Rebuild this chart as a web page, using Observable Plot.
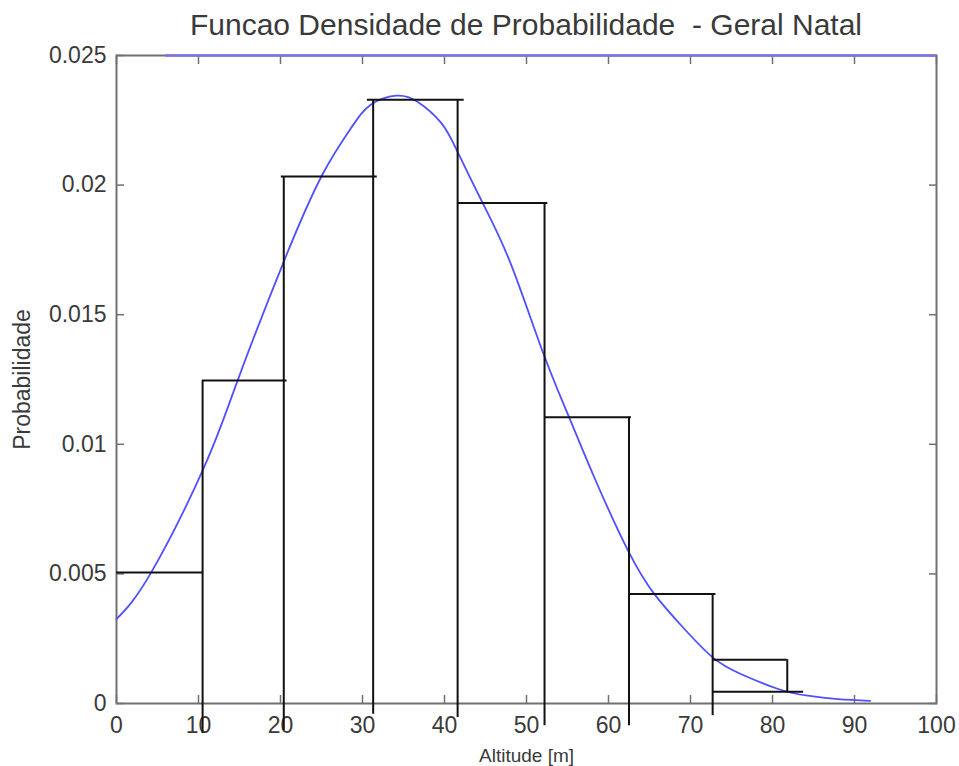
<!DOCTYPE html>
<html><head><meta charset="utf-8">
<script src="https://cdn.jsdelivr.net/npm/d3@7"></script>
<script src="https://cdn.jsdelivr.net/npm/@observablehq/plot@0.6"></script>
<style>
body{margin:0;background:#fff;font-family:"Liberation Sans",Arial,sans-serif;}
#title{height:45px;line-height:45px;padding-left:93px;width:866px;text-align:center;font-size:30px;color:#3a3a3a;padding-top:2px;box-sizing:content-box;}
#chart svg{overflow:visible;display:block;}
</style></head><body>
<div id="title">Funcao Densidade de Probabilidade&nbsp; - Geral Natal</div>
<div id="chart"></div>
<script>
// tick values / labels
const xTicks = [0, 10, 20, 30, 40, 50, 60, 70, 80, 90, 100];
const yTicks = [0, 0.005, 0.01, 0.015, 0.02, 0.025];
const yTickLabels = ["0", "0.005", "0.01", "0.015", "0.02", "0.025"];

// fitted density curve
const curveX = [0, 4.2, 10.7, 14.7, 20.4, 25.1, 28.6, 31.0, 34.1, 36.7, 39.6, 41.6, 44.7, 48.1, 52.0, 55.2, 58.3, 62.4, 65.6, 68.9, 72.7, 76.2, 80.7, 84.3, 88.0, 91.9];
const curveY = [0.00326, 0.00504, 0.00913, 0.01240, 0.01705, 0.0204, 0.0222, 0.02310, 0.02345, 0.02322, 0.0224, 0.02128, 0.01928, 0.01695, 0.01355, 0.01104, 0.0087, 0.00589, 0.00422, 0.0030, 0.00178, 0.00113, 0.00056, 0.0003, 0.00017, 0.0001];

// histogram outline: horizontal tops
const hX1 = [0, 10.5, 20.1, 30.6, 41.6, 52.2, 62.5, 72.7, 72.7];
const hX2 = [10.5, 20.8, 31.8, 42.4, 52.6, 62.8, 73.1, 81.8, 83.8];
const hY  = [0.00505, 0.01246, 0.02033, 0.02329, 0.01931, 0.01104, 0.00422, 0.00169, 0.00045];

// histogram outline: verticals
const vX      = [10.5, 20.4, 31.3, 41.6, 52.2, 62.5, 72.7, 81.8];
const vTop    = [0.01246, 0.02033, 0.02329, 0.02329, 0.01931, 0.01104, 0.00422, 0.00169];
const vBottom = [-0.00116, -0.00105, -0.00041, -0.00054, -0.00086, -0.00086, -0.00047, 0.00045];

// blue line along the top border
const topX1 = 6, topX2 = 100, topY = 0.025;

const curve = curveX.map((x, i) => ({x, y: curveY[i]}));
const hSegs = hY.map((y, i) => ({x1: hX1[i], x2: hX2[i], y}));
const vSegs = vX.map((x, i) => ({x, y1: vTop[i], y2: vBottom[i]}));
const topSeg = [{x1: topX1, x2: topX2, y: topY}];

const blank = () => "";
const plot = Plot.plot({
  width: 959, height: 719,
  marginTop: 8, marginBottom: 63, marginLeft: 116, marginRight: 23,
  x: {domain: [0, 100]},
  y: {domain: [0, 0.025]},
  style: {fontFamily: '"Liberation Sans", Arial, sans-serif', background: "#fff", color: "#3a3a3a"},
  marks: [
    Plot.frame({stroke: "#707070", strokeWidth: 2}),
    Plot.axisX(xTicks, {anchor: "bottom", tickSize: -8, tickFormat: blank, stroke: "#707070", strokeWidth: 1.5, label: null}),
    Plot.axisX(xTicks, {anchor: "top", tickSize: -8, tickFormat: blank, stroke: "#707070", strokeWidth: 1.5, label: null}),
    Plot.axisY(yTicks, {anchor: "left", tickSize: -8, tickFormat: blank, stroke: "#707070", strokeWidth: 1.5, label: null}),
    Plot.axisY(yTicks, {anchor: "right", tickSize: -8, tickFormat: blank, stroke: "#707070", strokeWidth: 1.5, label: null}),
    Plot.axisX(xTicks, {anchor: "bottom", tickSize: 0, tickPadding: 13, fontSize: 23, fill: "#3a3a3a", label: null}),
    Plot.axisY(yTicks, {anchor: "left", tickSize: 0, tickPadding: 10, fontSize: 23, fill: "#3a3a3a", label: null,
      tickFormat: d => yTickLabels[yTicks.indexOf(d)]}),
    Plot.ruleY(topSeg, {y: "y", x1: "x1", x2: "x2", stroke: "#7c74e6", strokeWidth: 2.5}),
    Plot.line(curve, {x: "x", y: "y", curve: "natural", stroke: "#5050ff", strokeWidth: 1.8}),
    Plot.ruleY(hSegs, {y: "y", x1: "x1", x2: "x2", stroke: "#111", strokeWidth: 2}),
    Plot.ruleX(vSegs, {x: "x", y1: "y1", y2: "y2", stroke: "#111", strokeWidth: 2}),
    Plot.text(["Probabilidade"], {frameAnchor: "left", textAnchor: "middle", text: d => d, rotate: -90, dx: -94, fontSize: 23, fill: "#3a3a3a"}),
    Plot.text(["Altitude [m]"], {frameAnchor: "bottom", text: d => d, dy: 58, fontSize: 19, fill: "#3a3a3a"})
  ]
});
document.getElementById("chart").appendChild(plot);
</script>
</body></html>
